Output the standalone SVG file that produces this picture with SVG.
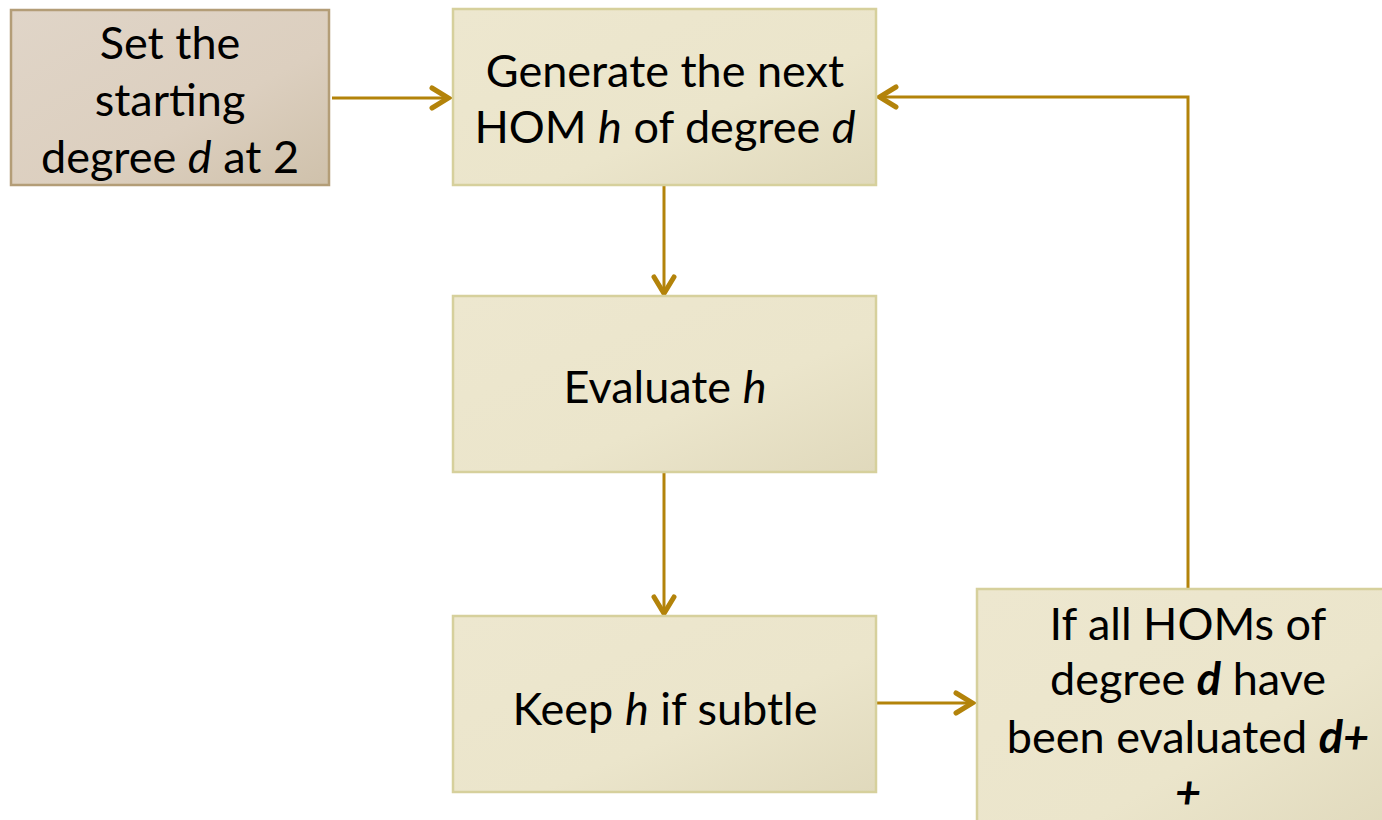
<svg xmlns="http://www.w3.org/2000/svg" width="1382" height="820" viewBox="0 0 1382 820">
  <defs>
    <linearGradient id="tanFill" x1="0" y1="0" x2="1" y2="1">
      <stop offset="0" stop-color="#e0d5c8"/>
      <stop offset="0.6" stop-color="#dccfbf"/>
      <stop offset="1" stop-color="#cfc1ab"/>
    </linearGradient>
    <linearGradient id="creamFill" x1="0" y1="0" x2="1" y2="1">
      <stop offset="0" stop-color="#ede7cf"/>
      <stop offset="0.6" stop-color="#ebe5cb"/>
      <stop offset="1" stop-color="#e0d9bc"/>
    </linearGradient>
    <!-- open chevron head used by every connector -->
    <marker id="arrow" viewBox="0 0 24 26" refX="22" refY="13" markerWidth="24" markerHeight="26" markerUnits="userSpaceOnUse" orient="auto">
      <path d="M4,3 L20.5,13 L4,23" fill="none" stroke="#b3830a" stroke-width="5" stroke-linecap="round" stroke-linejoin="miter"/>
    </marker>
  </defs>
  <style>
    .cream { fill: url(#creamFill); stroke: #d6d09c; stroke-width: 2.5; }
    .tan { fill: url(#tanFill); stroke: #b39d77; stroke-width: 2.5; }
    .label { font-family: Lato, "Open Sans", "Liberation Sans", sans-serif; font-size: 45px; fill: #000; text-anchor: middle; }
    .conn { fill: none; stroke: #b3830a; stroke-width: 3; marker-end: url(#arrow); }
  </style>
  <rect width="1382" height="820" fill="#ffffff"/>

  <g id="connectors">
    <line class="conn" x1="332" y1="98" x2="450" y2="98"/>
    <line class="conn" x1="664" y1="186" x2="664" y2="295"/>
    <line class="conn" x1="664" y1="473" x2="664" y2="615"/>
    <line class="conn" x1="877" y1="703" x2="974" y2="703"/>
    <polyline class="conn" points="1188,589 1188,97 878,97"/>
  </g>

  <g id="node-start">
    <rect class="tan" x="11" y="10" width="318" height="175"/>
    <text class="label" x="170" y="59">Set the</text>
    <text class="label" x="170" y="116">starting</text>
    <text class="label" x="170" y="173">degree <tspan font-style="italic">d</tspan> at 2</text>
  </g>

  <g id="node-generate">
    <rect class="cream" x="453" y="9" width="423" height="176"/>
    <text class="label" x="665" y="87">Generate the next</text>
    <text class="label" x="665" y="143">HOM <tspan font-style="italic">h</tspan> of degree <tspan font-style="italic">d</tspan></text>
  </g>

  <g id="node-evaluate">
    <rect class="cream" x="453" y="296" width="423" height="176"/>
    <text class="label" x="665" y="403">Evaluate <tspan font-style="italic">h</tspan></text>
  </g>

  <g id="node-keep">
    <rect class="cream" x="453" y="616" width="423" height="176"/>
    <text class="label" x="665" y="725">Keep <tspan font-style="italic">h</tspan> if subtle</text>
  </g>

  <g id="node-check">
    <rect class="cream" x="977" y="589" width="420" height="250"/>
    <text class="label" x="1188" y="640">If all HOMs of</text>
    <text class="label" x="1188" y="695">degree <tspan font-style="italic" font-weight="bold">d</tspan> have</text>
    <text class="label" x="1188" y="753">been evaluated <tspan font-style="italic" font-weight="bold">d+</tspan></text>
    <text class="label" x="1188" y="808"><tspan font-style="italic" font-weight="bold">+</tspan></text>
  </g>
</svg>
